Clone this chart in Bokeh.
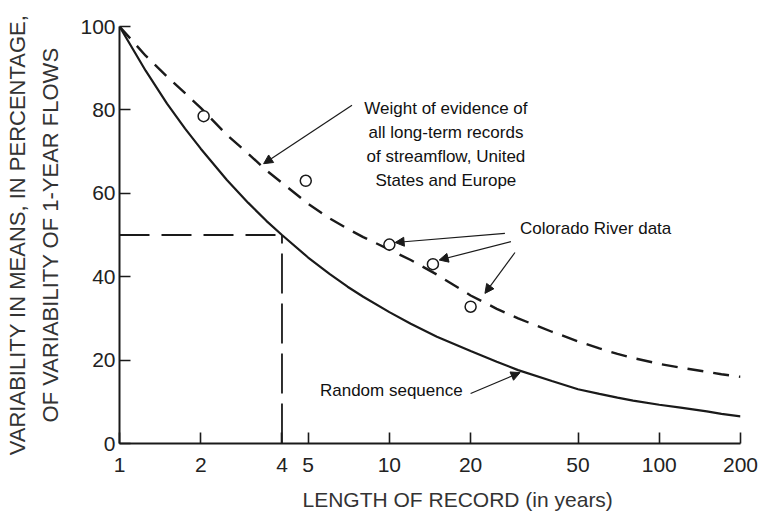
from bokeh.plotting import figure
from bokeh.models import (FixedTicker, NumeralTickFormatter, Label, Arrow, NormalHead, Title)
from bokeh.embed import file_html
from bokeh.resources import INLINE

# ---- data ----
x_random = [1, 1.25, 1.5, 1.75, 2, 2.5, 3, 3.5, 4, 5, 6, 7, 8, 10, 12, 15, 20, 25, 30, 40,
            50, 60, 70, 80, 100, 120, 150, 170, 200]
y_random = [100, 89.4, 81.5, 75.5, 70.7, 63.2, 57.7, 53.4, 50, 44.6, 40.7, 37.6, 35.2, 31.5,
            28.7, 25.6, 22.2, 19.6, 17.6, 15.0, 13.0, 11.9, 11.0, 10.3, 9.3, 8.6, 7.7, 7.1, 6.5]

x_evidence = [1, 1.25, 1.5, 1.75, 2, 2.5, 3, 3.5, 4, 5, 6, 7, 8, 10, 12, 15, 20, 25, 30, 40,
              50, 60, 70, 80, 100, 120, 150, 170, 200]
y_evidence = [100, 93, 88, 84, 80.5, 74, 69.5, 65.5, 62.5, 57.5, 54, 51.5, 49.5, 46.5,
              44, 40.5, 35.5, 32.3, 30, 26.8, 24.5, 22.8, 21.5, 20.5, 19.1, 18.2, 17.2, 16.6, 16]

x_colorado = [2.05, 4.9, 10, 14.5, 20]
y_colorado = [78.5, 63, 47.7, 43, 32.8]

x_ref_h = [1, 4]
y_ref_h = [50, 50]
x_ref_v = [4, 4]
y_ref_v = [0, 50]

x_ticks = [1, 2, 4, 5, 10, 20, 50, 100, 200]
y_ticks = [0, 20, 40, 60, 80, 100]

FONT = "Liberation Sans"
INK = "#1a1a1a"

p = figure(width=760, height=523, x_axis_type="log", x_range=(1, 200), y_range=(0, 100),
           output_backend="svg", toolbar_location=None,
           min_border_left=119, min_border_right=20, min_border_top=26, min_border_bottom=80)
p.outline_line_color = None
p.grid.visible = False
p.background_fill_color = "white"

# axes
for ax in (p.xaxis[0], p.yaxis[0]):
    ax.axis_line_color = INK
    ax.axis_line_width = 2
    ax.major_tick_line_color = INK
    ax.major_tick_line_width = 1.6
    ax.major_tick_out = 0
    ax.major_tick_in = 11
    ax.minor_tick_line_color = None
    ax.major_label_text_font = FONT
    ax.major_label_text_font_size = "21px"
    ax.major_label_text_color = "#222222"

p.xaxis.ticker = FixedTicker(ticks=x_ticks)
p.xaxis.formatter = NumeralTickFormatter(format="0")
p.xaxis.major_label_standoff = 14

p.yaxis.ticker = FixedTicker(ticks=y_ticks)
p.yaxis.major_label_standoff = 4
p.yaxis.axis_label = "VARIABILITY IN MEANS, IN PERCENTAGE,\nOF VARIABILITY OF 1-YEAR FLOWS"
p.yaxis.axis_label_text_font = FONT
p.yaxis.axis_label_text_font_size = "22px"
p.yaxis.axis_label_text_font_style = "normal"
p.yaxis.axis_label_text_color = "#333333"
p.yaxis.axis_label_standoff = 14
p.yaxis.axis_label_text_line_height = 1.35

# x-axis title (placed off-centre, as in the reference)
p.add_layout(Title(text="LENGTH OF RECORD (in years)", align="left", offset=183,
                   text_font=FONT, text_font_size="21px", text_font_style="normal",
                   text_color="#333333", standoff=22), "below")

# reference dashed lines
p.line(x_ref_h, y_ref_h, line_color=INK, line_width=1.8, line_dash="30 12")
p.line(x_ref_v, y_ref_v, line_color=INK, line_width=1.8, line_dash="40 10")

# curves
p.line(x_random, y_random, line_color=INK, line_width=2.2)
p.line(x_evidence, y_evidence, line_color=INK, line_width=2.4, line_dash="16 10")

# Colorado River points
p.scatter(x_colorado, y_colorado, size=11, marker="circle", fill_color="white",
          line_color=INK, line_width=1.5)

# annotations
def lab(x, y, text, align="left", baseline="middle", size="17px"):
    p.add_layout(Label(x=x, y=y, text=text, text_font=FONT, text_font_size=size,
                       text_color="#111111", text_align=align, text_baseline=baseline,
                       text_line_height=1.25))

lab(16.2, 82.5, "Weight of evidence of\nall long-term records\nof streamflow, United\nStates and Europe",
    align="center", baseline="top")
lab(30.5, 51.6, "Colorado River data")
lab(5.53, 12.7, "Random sequence")

def arrow(x0, y0, x1, y1):
    p.add_layout(Arrow(end=NormalHead(size=9, fill_color=INK, line_color=INK),
                       x_start=x0, y_start=y0, x_end=x1, y_end=y1,
                       line_color=INK, line_width=1.2))

arrow(7.27, 81.1, 3.42, 67.1)
arrow(26.8, 50.4, 10.5, 48.2)
arrow(28.2, 48.4, 15.3, 44.0)
arrow(29.2, 45.8, 22.6, 36.0)
arrow(20.0, 12.0, 30.5, 17.0)

open("out.html", "w").write(file_html(p, INLINE))
